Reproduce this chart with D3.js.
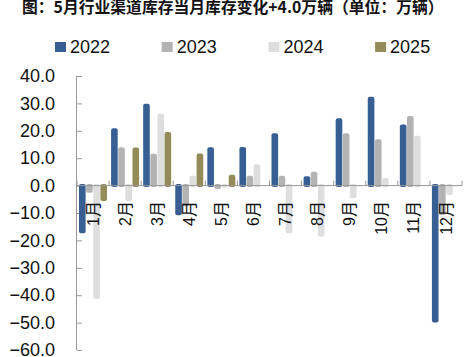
<!DOCTYPE html>
<html>
<head>
<meta charset="utf-8">
<script src="https://cdn.jsdelivr.net/npm/d3@7"></script>
<style>
  body { margin: 0; background: #fff; }
  text { font-family: "Liberation Sans", Arial, "Noto Sans CJK SC", sans-serif; }
</style>
</head>
<body>
<svg id="chart"></svg>
<script>
const months = ["1月", "2月", "3月", "4月", "5月", "6月", "7月", "8月", "9月", "10月", "11月", "12月"];
const years = ["2022", "2023", "2024", "2025"];
const v2022 = [-17.4, 20.9, 29.9, -10.8, 14.0, 14.1, 19.1, 3.4, 24.6, 32.4, 22.3, -50.0];
const v2023 = [-2.6, 14.0, 11.6, -7.5, -1.2, 3.6, 3.6, 5.1, 19.1, 16.9, 25.4, -10.7];
const v2024 = [-41.4, -5.7, 26.2, 3.6, -0.7, 7.8, -17.4, -18.6, -4.6, 2.8, 18.2, -3.4];
const v2025 = [-5.6, 13.9, 19.6, 11.7, 4.0, null, null, null, null, null, null, null];
const yTicks = [40, 30, 20, 10, 0, -10, -20, -30, -40, -50, -60];
const colors = ["#375f94", "#b3b3b3", "#dedede", "#958b58"];

const width = 470, height = 357;
const svg = d3.select("#chart").attr("width", width).attr("height", height);

const series = [v2022, v2023, v2024, v2025];

const x = d3.scaleBand().domain(months).range([77, 462]);
const x1 = d3.scaleBand().domain(years).range([2, 30]).paddingInner(0.07);
const y = d3.scaleLinear().domain([-60, 40]).range([350, 76]);

// Title
svg.append("text")
  .attr("x", 22)
  .attr("y", 12.5)
  .attr("font-size", 15.8)
  .attr("font-weight", "bold")
  .style("font-family", "'Noto Sans CJK SC', sans-serif")
  .attr("fill", "#111")
  .text("图：5月行业渠道库存当月库存变化+4.0万辆（单位：万辆）");

// Legend
const legend = svg.selectAll(".legend")
  .data(years)
  .enter()
  .append("g")
  .attr("transform", (d, i) => `translate(${55 + i * 106.7},42)`);
legend.append("rect")
  .attr("width", 11)
  .attr("height", 10)
  .attr("fill", (d, i) => colors[i]);
legend.append("text")
  .attr("x", 15)
  .attr("y", 11)
  .attr("font-size", 18)
  .attr("fill", "#111")
  .text(d => d);

// Y axis
const yAxis = svg.append("g")
  .attr("transform", "translate(77,0)")
  .call(d3.axisLeft(y).tickValues(yTicks).tickSize(-5).tickPadding(22).tickFormat(d3.format(".1f")));
yAxis.select(".domain").attr("stroke", "#999").attr("d", `M-0.5,${y(40)}V${y(-60)}`);
yAxis.selectAll(".tick line").attr("stroke", "#999");
yAxis.selectAll(".tick text").attr("font-size", 18).attr("fill", "#111")
  .style("font-family", "'Liberation Sans', Arial, sans-serif");

// Bars
series.forEach((vals, s) => {
  svg.append("g")
    .selectAll("rect")
    .data(vals.map((v, i) => ({ m: months[i], v })).filter(d => d.v !== null))
    .enter()
    .append("rect")
    .attr("x", d => x(d.m) + x1(years[s]))
    .attr("width", x1.bandwidth())
    .attr("y", d => (d.v >= 0 ? y(d.v) : y(0) - 1.5))
    .attr("height", d => Math.abs(y(d.v) - y(0)) + 1.5)
    .attr("rx", 2)
    .attr("fill", colors[s]);
});

// X axis at zero
const xAxis = svg.append("g").attr("transform", `translate(0,${y(0)})`);
xAxis.append("line")
  .attr("x1", 77).attr("x2", 462)
  .attr("stroke", "#999");
xAxis.selectAll(".tk")
  .data(months.concat(["end"]))
  .enter()
  .append("line")
  .attr("x1", (d, i) => 77 + i * x.bandwidth())
  .attr("x2", (d, i) => 77 + i * x.bandwidth())
  .attr("y1", 0).attr("y2", -5)
  .attr("stroke", "#999");

// Month labels
svg.selectAll(".month")
  .data(months)
  .enter()
  .append("text")
  .attr("transform", d => `translate(${x(d) + x.bandwidth() / 2},201) rotate(-90)`)
  .attr("text-anchor", "end")
  .attr("dy", "0.35em")
  .attr("font-size", 16)
  .attr("fill", "#111")
  .text(d => d);
</script>
</body>
</html>
